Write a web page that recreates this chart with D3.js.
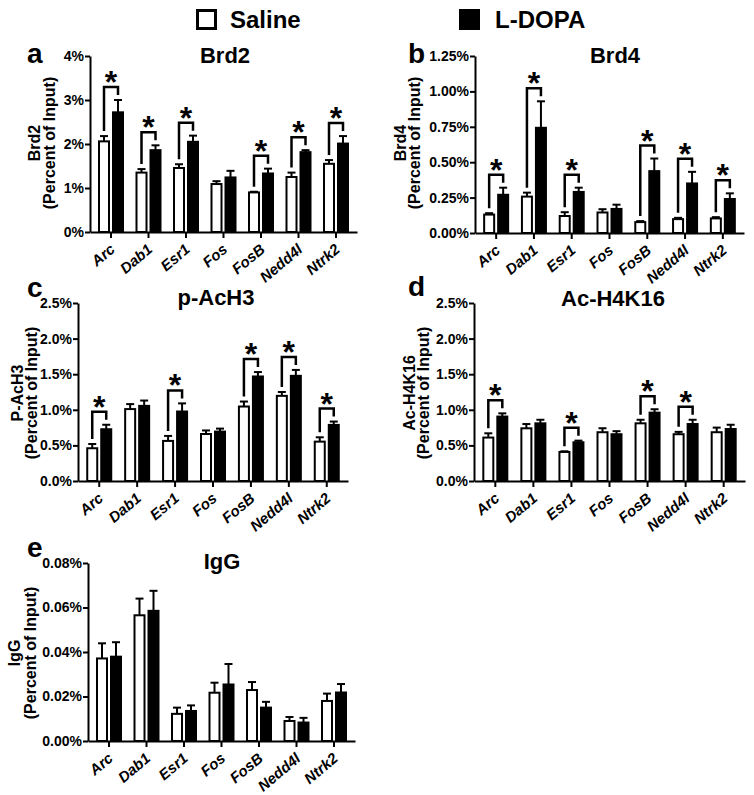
<!DOCTYPE html>
<html><head><meta charset="utf-8">
<script src="https://cdn.jsdelivr.net/npm/d3@7"></script>
<style>
body{margin:0;background:#fff;}
svg{display:block;font-family:"Liberation Sans",Arial,Helvetica,sans-serif;font-weight:bold;}
</style></head>
<body>
<svg id="chart" width="754" height="795"></svg>
<script>
const categories = ["Arc","Dab1","Esr1","Fos","FosB","Nedd4l","Ntrk2"];
const seriesNames = ["Saline","L-DOPA"];

// Brd2 (%)
const brd2Saline    = [2.06, 1.35, 1.455, 1.09, 0.90, 1.25, 1.55];
const brd2SalineSem = [0.12, 0.08, 0.085, 0.065, 0.015, 0.10, 0.085];
const brd2Ldopa     = [2.72, 1.86, 2.05, 1.24, 1.33, 1.815, 2.01];
const brd2LdopaSem  = [0.28, 0.11, 0.14, 0.15, 0.11, 0.045, 0.17];
const brd2Sig       = [1,1,1,0,1,1,1];
const brd2Ticks     = [0,1,2,3,4];

// Brd4 (%)
const brd4Saline    = [0.13, 0.257, 0.12, 0.145, 0.077, 0.098, 0.103];
const brd4SalineSem = [0.01, 0.028, 0.027, 0.023, 0.007, 0.009, 0.009];
const brd4Ldopa     = [0.27, 0.743, 0.29, 0.17, 0.437, 0.35, 0.24];
const brd4LdopaSem  = [0.05, 0.187, 0.03, 0.03, 0.089, 0.082, 0.04];
const brd4Sig       = [1,1,1,0,1,1,1];
const brd4Ticks     = [0,0.25,0.5,0.75,1.0,1.25];

// p-AcH3 (%)
const pach3Saline    = [0.46, 1.01, 0.563, 0.66, 1.046, 1.196, 0.553];
const pach3SalineSem = [0.06, 0.07, 0.07, 0.05, 0.07, 0.054, 0.061];
const pach3Ldopa     = [0.727, 1.055, 0.976, 0.694, 1.468, 1.477, 0.788];
const pach3LdopaSem  = [0.063, 0.075, 0.114, 0.042, 0.062, 0.083, 0.047];
const pach3Sig       = [1,0,1,0,1,1,1];
const pach3Ticks     = [0,0.5,1.0,1.5,2.0,2.5];

// Ac-H4K16 (%)
const h4Saline    = [0.61, 0.74, 0.408, 0.685, 0.81, 0.657, 0.685];
const h4SalineSem = [0.06, 0.06, 0.009, 0.056, 0.05, 0.033, 0.065];
const h4Ldopa     = [0.905, 0.81, 0.544, 0.657, 0.96, 0.80, 0.73];
const h4LdopaSem  = [0.045, 0.05, 0.023, 0.043, 0.048, 0.06, 0.06];
const h4Sig       = [1,0,1,0,1,1,0];
const h4Ticks     = [0,0.5,1.0,1.5,2.0,2.5];

// IgG (%)
const iggSaline    = [0.0371, 0.0565, 0.0122, 0.0217, 0.0229, 0.0090, 0.0180];
const iggSalineSem = [0.0068, 0.0075, 0.0028, 0.0045, 0.0036, 0.0018, 0.0033];
const iggLdopa     = [0.0379, 0.0585, 0.0135, 0.0254, 0.0150, 0.0083, 0.0218];
const iggLdopaSem  = [0.0065, 0.0090, 0.0025, 0.0092, 0.0026, 0.0021, 0.0038];
const iggSig       = [0,0,0,0,0,0,0];
const iggTicks     = [0,0.02,0.04,0.06,0.08];

const panels = [
  {letter:"a", title:"Brd2", ylab:"Brd2", s:brd2Saline, ss:brd2SalineSem, l:brd2Ldopa, ls:brd2LdopaSem, sig:brd2Sig, ticks:brd2Ticks, fmt:d=>d3.format(".0f")(d)+"%",
   x0:90, x1:357, y0:232, y1:56, lx:27, ly:63, tx:225, ty:63, ax:[34,49], ay:143},
  {letter:"b", title:"Brd4", ylab:"Brd4", s:brd4Saline, ss:brd4SalineSem, l:brd4Ldopa, ls:brd4LdopaSem, sig:brd4Sig, ticks:brd4Ticks, fmt:d=>d3.format(".2f")(d)+"%",
   x0:475, x1:744, y0:233, y1:56, lx:408, ly:63, tx:615, ty:63, ax:[400,414], ay:143},
  {letter:"c", title:"p-AcH3", ylab:"P-AcH3", s:pach3Saline, ss:pach3SalineSem, l:pach3Ldopa, ls:pach3LdopaSem, sig:pach3Sig, ticks:pach3Ticks, fmt:d=>d3.format(".1f")(d)+"%",
   x0:78, x1:348, y0:481, y1:303, lx:27, ly:297, tx:216, ty:305, ax:[17,31], ay:393},
  {letter:"d", title:"Ac-H4K16", ylab:"Ac-H4K16", s:h4Saline, ss:h4SalineSem, l:h4Ldopa, ls:h4LdopaSem, sig:h4Sig, ticks:h4Ticks, fmt:d=>d3.format(".1f")(d)+"%",
   x0:474, x1:745, y0:481, y1:303, lx:408, ly:296, tx:613, ty:306, ax:[409,423], ay:393},
  {letter:"e", title:"IgG", ylab:"IgG", s:iggSaline, ss:iggSalineSem, l:iggLdopa, ls:iggLdopaSem, sig:iggSig, ticks:iggTicks, fmt:d=>d3.format(".2f")(d)+"%",
   x0:88, x1:355, y0:741, y1:563, lx:27, ly:557, tx:222, ty:569, ax:[14,30], ay:653}
];

const svg = d3.select("#chart");

// Legend
const leg = svg.append("g");
leg.append("rect").attr("x",197.5).attr("y",10.5).attr("width",18).attr("height",18)
  .attr("fill","#fff").attr("stroke","#000").attr("stroke-width",3);
leg.append("text").attr("x",230).attr("y",28).attr("font-size",24).text(seriesNames[0]);
leg.append("rect").attr("x",459).attr("y",9).attr("width",21).attr("height",21).attr("fill","#000");
leg.append("text").attr("x",495).attr("y",28).attr("font-size",24).text(seriesNames[1]);

const barW = 12, off = 7;

panels.forEach(p => {
  const g = svg.append("g");
  const x = d3.scaleBand().domain(categories).range([p.x0, p.x1]).paddingInner(0).paddingOuter(0.06);
  const y = d3.scaleLinear().domain([0, p.ticks[p.ticks.length-1]]).range([p.y0, p.y1]);
  const cx = c => x(c) + x.bandwidth()/2;

  const rows = categories.map((c,i)=>({c, s:p.s[i], ss:p.ss[i], l:p.l[i], ls:p.ls[i], sig:p.sig[i]}));
  const eb = (xc, v, e) => {
    g.append("line").attr("x1",xc).attr("x2",xc).attr("y1",y(v)).attr("y2",y(v+e)).attr("stroke","#000").attr("stroke-width",2);
    g.append("line").attr("x1",xc-4).attr("x2",xc+4).attr("y1",y(v+e)).attr("y2",y(v+e)).attr("stroke","#000").attr("stroke-width",2);
  };
  rows.forEach(r => {
    eb(cx(r.c)-off, r.s, r.ss);
    eb(cx(r.c)+off, r.l, r.ls);
    g.append("rect").attr("x",cx(r.c)-off-barW/2+1).attr("y",y(r.s)).attr("width",barW-2).attr("height",y(0)-y(r.s))
      .attr("fill","#fff").attr("stroke","#000").attr("stroke-width",2);
    g.append("rect").attr("x",cx(r.c)+off-barW/2).attr("y",y(r.l)-1).attr("width",barW).attr("height",y(0)-y(r.l)+1)
      .attr("fill","#000");
    if (r.sig) {
      const ts = y(r.s+r.ss), tl = y(r.l+r.ls);
      const by = Math.min(ts, tl) - 13;
      const xa = cx(r.c)-off, xb = cx(r.c)+off;
      g.append("path").attr("d",`M${xa},${ts-5}V${by}H${xb}V${tl-5}`)
        .attr("fill","none").attr("stroke","#000").attr("stroke-width",2.5);
      g.append("text").attr("x",(xa+xb)/2).attr("y",by+6).attr("text-anchor","middle").attr("font-size",32).text("*");
    }
  });

  const ya = g.append("g").attr("transform",`translate(${p.x0},0)`)
    .call(d3.axisLeft(y).tickValues(p.ticks).tickFormat(p.fmt).tickSize(5).tickSizeOuter(0));
  ya.select(".domain").attr("stroke-width",2);
  ya.selectAll(".tick line").attr("stroke-width",2);
  ya.selectAll(".tick text").style("font-size","14px").style("font-weight","bold").attr("x",-6);

  const xa = g.append("g").attr("transform",`translate(0,${p.y0})`)
    .call(d3.axisBottom(x).tickSize(6).tickSizeOuter(0));
  xa.select(".domain").attr("stroke-width",2);
  xa.selectAll(".tick line").attr("stroke-width",2);
  xa.selectAll(".tick text").style("font-size","15px").style("font-weight","bold").style("font-style","italic")
    .attr("x",0).attr("y",0).attr("dy",0).attr("text-anchor","end")
    .attr("transform","translate(5,19) rotate(-40)");

  g.append("text").attr("x",p.lx).attr("y",p.ly).attr("font-size",28).text(p.letter);
  g.append("text").attr("x",p.tx).attr("y",p.ty).attr("text-anchor","middle").attr("font-size",22).text(p.title);

  const yl = g.append("text").attr("transform",`translate(0,${p.ay}) rotate(-90)`).attr("text-anchor","middle").attr("font-size",16);
  yl.append("tspan").attr("x",0).attr("y",p.ax[0]).attr("dominant-baseline","central").text(p.ylab);
  yl.append("tspan").attr("x",0).attr("y",p.ax[1]).attr("dominant-baseline","central").text("(Percent of Input)");
});
</script>
</body></html>
